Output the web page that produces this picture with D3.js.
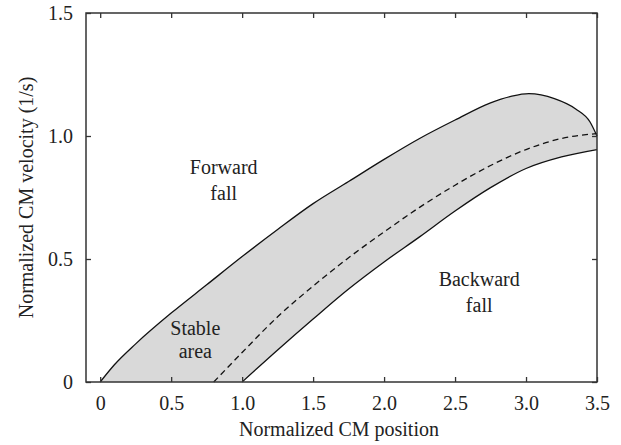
<!DOCTYPE html>
<html>
<head>
<meta charset="utf-8">
<script src="https://cdn.jsdelivr.net/npm/d3@7"></script>
<style>
  html, body { margin: 0; padding: 0; background: #fff; }
  svg { display: block; }
  svg text { font-family: "Liberation Serif", "Times New Roman", Tinos, "DejaVu Serif", "Noto Serif", serif !important; fill: #222; }
</style>
</head>
<body>
<svg id="chart" width="621" height="445"></svg>
<script>
// ---- data ----
const upperX = [0, 0.1, 0.25, 0.5, 0.75, 1.0, 1.25, 1.5, 1.75, 2.0, 2.25, 2.5, 2.75, 2.9, 3.02, 3.2, 3.35, 3.45, 3.5];
const upperY = [0, 0.07, 0.155, 0.28, 0.395, 0.51, 0.62, 0.725, 0.815, 0.905, 0.99, 1.065, 1.135, 1.162, 1.172, 1.152, 1.11, 1.058, 1.0];

const dashedX = [0.8, 1.0, 1.25, 1.5, 1.75, 2.0, 2.25, 2.5, 2.75, 3.0, 3.25, 3.5];
const dashedY = [0, 0.12, 0.265, 0.39, 0.505, 0.61, 0.71, 0.80, 0.88, 0.945, 0.99, 1.01];

const lowerX = [1.0, 1.25, 1.5, 1.75, 2.0, 2.25, 2.5, 2.75, 3.0, 3.25, 3.5];
const lowerY = [0, 0.13, 0.256, 0.378, 0.488, 0.59, 0.695, 0.79, 0.868, 0.915, 0.945];

const xTicks = [0, 0.5, 1.0, 1.5, 2.0, 2.5, 3.0, 3.5];
const xTickLabels = ["0", "0.5", "1.0", "1.5", "2.0", "2.5", "3.0", "3.5"];
const yTicks = [0, 0.5, 1.0, 1.5];
const yTickLabels = ["0", "0.5", "1.0", "1.5"];

const annotations = [
  { lines: ["Forward", "fall"], x: 0.87, y: 0.845, gap: 26 },
  { lines: ["Stable", "area"], x: 0.67, y: 0.19, gap: 23 },
  { lines: ["Backward", "fall"], x: 2.67, y: 0.39, gap: 26 }
];

// ---- layout ----
const svg = d3.select("#chart");
const mLeft = 86, mRight = 597, mTop = 13, mBottom = 382;
const x = d3.scaleLinear().domain([-0.1, 3.5]).range([mLeft, mRight]);
const y = d3.scaleLinear().domain([0, 1.5]).range([mBottom, mTop]);

const toPts = (xs, ys) => xs.map((v, i) => [v, ys[i]]);
const upper = toPts(upperX, upperY);
const dashed = toPts(dashedX, dashedY);
const lower = toPts(lowerX, lowerY);

const curve = d3.curveMonotoneX;
const line = d3.line().x(d => x(d[0])).y(d => y(d[1])).curve(curve);
const area = d3.area().x(d => x(d[0])).y0(y(0)).y1(d => y(d[1])).curve(curve);

// shaded stable region: grey under the upper bound, white under the lower bound
svg.append("path").attr("d", area(upper)).attr("fill", "#d9d9d9");
svg.append("path").attr("d", area(lower)).attr("fill", "#ffffff");

// curves
svg.append("path").attr("d", line(upper))
  .attr("fill", "none").attr("stroke", "#111").attr("stroke-width", 1.3);
svg.append("path").attr("d", line(lower))
  .attr("fill", "none").attr("stroke", "#111").attr("stroke-width", 1.3);
svg.append("path").attr("d", line(dashed))
  .attr("fill", "none").attr("stroke", "#111").attr("stroke-width", 1.3)
  .attr("stroke-dasharray", "6,4");

// axes frame
const axisColor = "#333";
svg.append("rect")
  .attr("x", mLeft).attr("y", mTop)
  .attr("width", mRight - mLeft).attr("height", mBottom - mTop)
  .attr("fill", "none").attr("stroke", axisColor).attr("stroke-width", 1.5);

const tickLen = 5;
const xAxisB = d3.axisBottom(x).tickValues(xTicks).tickSize(-tickLen).tickPadding(14)
  .tickFormat((d, i) => xTickLabels[i]);
const gxb = svg.append("g").attr("transform", `translate(0,${mBottom})`).call(xAxisB);
const xAxisT = d3.axisTop(x).tickValues(xTicks).tickSize(-tickLen).tickFormat("");
const gxt = svg.append("g").attr("transform", `translate(0,${mTop})`).call(xAxisT);

const yAxisL = d3.axisLeft(y).tickValues(yTicks).tickSize(-tickLen).tickPadding(13)
  .tickFormat((d, i) => yTickLabels[i]);
const gyl = svg.append("g").attr("transform", `translate(${mLeft},0)`).call(yAxisL);
const yAxisR = d3.axisRight(y).tickValues(yTicks).tickSize(-tickLen).tickFormat("");
const gyr = svg.append("g").attr("transform", `translate(${mRight},0)`).call(yAxisR);

[gxb, gxt, gyl, gyr].forEach(g => {
  g.attr("font-family", null);
  g.select(".domain").remove();
  g.selectAll(".tick line").attr("stroke", axisColor).attr("stroke-width", 1.3);
  g.selectAll(".tick text").style("font-size", "20px").attr("fill", "#222");
});

// axis titles
svg.append("text")
  .attr("x", 339).attr("y", 436)
  .attr("text-anchor", "middle")
  .style("font-size", "20px")
  .text("Normalized CM position");
svg.append("text")
  .attr("transform", `translate(33,${(mTop + mBottom) / 2}) rotate(-90)`)
  .attr("text-anchor", "middle")
  .style("font-size", "20px")
  .text("Normalized CM velocity (1/s)");

// annotations
annotations.forEach(a => {
  const t = svg.append("text")
    .attr("x", x(a.x)).attr("y", y(a.y))
    .attr("text-anchor", "middle")
    .style("font-size", "20px");
  a.lines.forEach((s, i) => {
    t.append("tspan").attr("x", x(a.x)).attr("dy", i === 0 ? 0 : a.gap).text(s);
  });
});
</script>
</body>
</html>
